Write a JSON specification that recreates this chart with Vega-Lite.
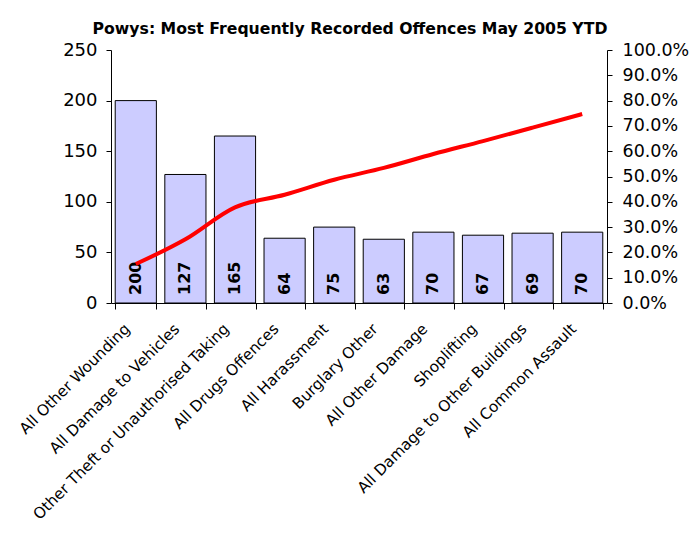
{
  "$schema": "https://vega.github.io/schema/vega-lite/v6.json",
  "width": 496,
  "height": 253,
  "autosize": {"type": "none"},
  "padding": {"left": 111, "top": 50, "right": 83, "bottom": 230},
  "background": "white",
  "title": {
    "text": "Powys: Most Frequently Recorded Offences May 2005 YTD",
    "font": "DejaVu Sans",
    "fontSize": 15.7,
    "fontWeight": "bold",
    "color": "black",
    "anchor": "middle",
    "offset": 3,
    "dx": -9
  },
  "data": {
    "values": [
      {"offence": "All Other Wounding", "count": 200, "cum": 0.154},
      {"offence": "All Damage to Vehicles", "count": 127, "cum": 0.252},
      {"offence": "Other Theft or Unauthorised Taking", "count": 165, "cum": 0.378},
      {"offence": "All Drugs Offences", "count": 64, "cum": 0.428},
      {"offence": "All Harassment", "count": 75, "cum": 0.487},
      {"offence": "Burglary Other", "count": 63, "cum": 0.534},
      {"offence": "All Other Damage", "count": 70, "cum": 0.589},
      {"offence": "Shoplifting", "count": 67, "cum": 0.640},
      {"offence": "All Damage to Other Buildings", "count": 69, "cum": 0.693},
      {"offence": "All Common Assault", "count": 70, "cum": 0.747}
    ]
  },
  "encoding": {
    "x": {
      "field": "offence",
      "type": "nominal",
      "sort": null,
      "scale": {"paddingInner": 0.17},
      "axis": {
        "title": null,
        "labelAngle": -45,
        "labelFontSize": 15.3,
        "tickBand": "extent",
        "tickSize": 6,
        "labelPadding": 12,
        "labelOffset": -14,
        "labelLimit": 400,
        "labelOverlap": false
      }
    }
  },
  "layer": [
    {
      "layer": [
        {
          "mark": {"type": "bar", "fill": "#CCCCFF", "stroke": "black", "strokeWidth": 1},
          "encoding": {
            "y": {
              "field": "count",
              "type": "quantitative",
              "scale": {"domain": [0, 250]},
              "axis": {
                "title": null,
                "values": [0, 50, 100, 150, 200, 250],
                "grid": false,
                "tickSize": 5,
                "labelPadding": 9,
                "labelFontSize": 18
              }
            }
          }
        },
        {
          "mark": {"type": "text", "angle": 270, "align": "left", "baseline": "middle", "font": "DejaVu Sans", "fontSize": 16, "fontWeight": "bold", "color": "black", "yOffset": -8},
          "encoding": {
            "y": {"datum": 0, "type": "quantitative", "scale": {"domain": [0, 250]}},
            "text": {"field": "count", "type": "quantitative"}
          }
        }
      ]
    },
    {
      "mark": {"type": "line", "color": "#FF0000", "strokeWidth": 4, "interpolate": "monotone"},
      "encoding": {
        "y": {
          "field": "cum",
          "type": "quantitative",
          "scale": {"domain": [0, 1]},
          "axis": {
            "title": null,
            "orient": "right",
            "format": ".1%",
            "values": [0, 0.1, 0.2, 0.3, 0.4, 0.5, 0.6, 0.7, 0.8, 0.9, 1.0],
            "grid": false,
            "tickSize": 5,
            "labelPadding": 10,
            "labelFontSize": 17.5
          }
        }
      }
    }
  ],
  "resolve": {"scale": {"y": "independent"}},
  "config": {
    "view": {"stroke": null},
    "axis": {
      "labelFont": "DejaVu Sans",
      "labelColor": "black",
      "domainColor": "black",
      "tickColor": "black",
      "domainWidth": 1,
      "tickWidth": 1
    }
  }
}
